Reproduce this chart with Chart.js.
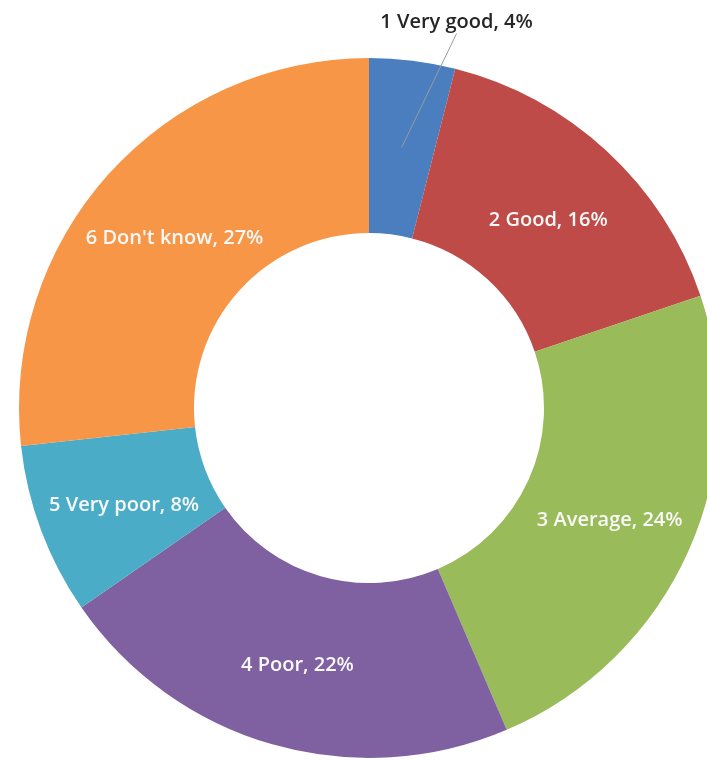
<!DOCTYPE html>
<html>
<head>
<meta charset="utf-8">
<script src="https://cdn.jsdelivr.net/npm/chart.js"></script>
<style>
  html, body { margin: 0; padding: 0; background: #fff; overflow: hidden; }
  #wrap { position: relative; width: 740px; height: 760px; }
</style>
</head>
<body>
<div id="wrap"><canvas id="ratingChart"></canvas></div>
<script>
const categories = ["1 Very good", "2 Good", "3 Average", "4 Poor", "5 Very poor", "6 Don't know"];
const shares = [4, 16, 24, 22, 8, 27];
const sliceColors = ["#4a7ebf", "#be4b48", "#9abb59", "#7f60a0", "#4aacc6", "#f79646"];

// label text: "<category>, <share>%"
function labelFor(i) {
  return categories[i] + ", " + shares[i] + "%";
}

// white labels on the slices, the smallest one gets a callout above the ring
const sliceLabels = {
  id: "sliceLabels",
  afterDatasetsDraw(chart) {
    const ctx = chart.ctx;
    const arcs = chart.getDatasetMeta(0).data;
    ctx.save();
    ctx.font = "600 20px 'Open Sans'";
    ctx.textAlign = "center";
    ctx.textBaseline = "alphabetic";
    arcs.forEach((arc, i) => {
      const pos = arc.tooltipPosition();
      if (i === 0) {
        const endX = pos.x + 55;
        const endY = pos.y - 114;
        ctx.strokeStyle = "#9a9a9a";
        ctx.lineWidth = 1;
        ctx.beginPath();
        ctx.moveTo(pos.x, pos.y);
        ctx.lineTo(endX, endY);
        ctx.stroke();
        ctx.fillStyle = "#262626";
        ctx.fillText(labelFor(i), endX, endY - 6);
      } else {
        ctx.fillStyle = "#f8f8f8";
        ctx.fillText(labelFor(i), pos.x + 1, pos.y + 11);
      }
    });
    ctx.restore();
  }
};

const ctx = document.getElementById("ratingChart").getContext("2d");

new Chart(ctx, {
  type: "doughnut",
  data: {
    labels: categories,
    datasets: [
      {
        data: shares,
        backgroundColor: sliceColors,
        borderWidth: 0,
      },
    ],
  },
  options: {
    responsive: true,
    maintainAspectRatio: false,
    animation: false,
    cutout: "50%",
    layout: {
      padding: { left: 19, top: 58, right: 21, bottom: 2 },
    },
    plugins: {
      legend: { display: false },
      tooltip: { enabled: false },
    },
  },
  plugins: [sliceLabels],
});
</script>
</body>
</html>
